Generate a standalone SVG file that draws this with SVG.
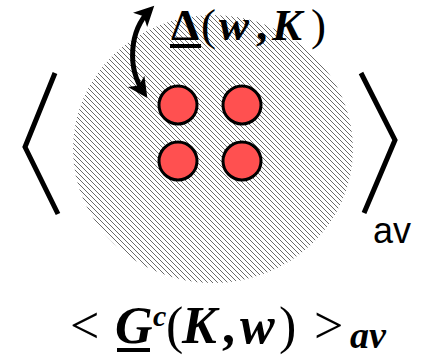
<svg xmlns="http://www.w3.org/2000/svg" width="424" height="357" viewBox="0 0 424 357">
<defs>
<pattern id="hatch" patternUnits="userSpaceOnUse" width="5" height="5">
<g fill="#6a6a6a" shape-rendering="crispEdges"><rect x="0" y="0" width="1" height="1"/><rect x="1" y="1" width="1" height="1"/><rect x="2" y="2" width="1" height="1"/><rect x="3" y="3" width="1" height="1"/><rect x="4" y="4" width="1" height="1"/></g>
</pattern>
<marker id="ah" viewBox="0 0 10 10" refX="7" refY="5" markerWidth="4.5" markerHeight="4" orient="auto-start-reverse" markerUnits="strokeWidth">
<path d="M0,0 L10,5 L0,10 L2.5,5 Z" fill="#000"/>
</marker>
<style>
.bracket{fill:none;stroke:#000;stroke-width:5;stroke-linejoin:miter}
.dot{fill:#ff5050;stroke:#000;stroke-width:3}
.math{font-family:"Liberation Serif","DejaVu Serif",serif;fill:#000}
.bi{font-weight:bold;font-style:italic}
.b{font-weight:bold}
</style>
</defs>
<g id="disc"><ellipse cx="213" cy="149" rx="140" ry="134" fill="url(#hatch)"/></g>
<g id="brackets">
<polyline class="bracket" points="55,73 25,147 58,214"/>
<polyline class="bracket" points="361,73 395,140 364,213"/>
<text x="373" y="243" font-family="'Liberation Sans',Arial,sans-serif" font-size="36" fill="#000">av</text>
</g>
<g id="sites">
<circle class="dot" cx="178" cy="105" r="19"/>
<circle class="dot" cx="242" cy="105" r="19"/>
<circle class="dot" cx="178" cy="161" r="19"/>
<circle class="dot" cx="242" cy="161" r="19"/>
</g>
<g id="connectors">
<path d="M150,10 C129,31 127,68 144,93" fill="none" stroke="#000" stroke-width="5" marker-start="url(#ah)" marker-end="url(#ah)"/>
</g>
<g id="delta-label" class="math" font-size="45">
<text x="171" y="40" class="b">Δ</text>
<text x="201" y="40">(</text>
<text x="219" y="40" class="bi">w</text>
<text x="256" y="40" class="b">,</text>
<text x="272" y="40" class="bi">K</text>
<text x="311" y="40">)</text>
<rect x="170" y="44" width="31" height="4"/>
</g>
<g id="formula" class="math" font-size="52">
<text x="70" y="343">&lt;</text>
<text x="115" y="343" class="bi">G</text>
<text x="153" y="326" class="bi" font-size="30">c</text>
<text x="166" y="343">(</text>
<text x="182" y="343" class="bi">K</text>
<text x="222" y="343" class="b">,</text>
<text x="240" y="343" class="bi">w</text>
<text x="279" y="343">)</text>
<text x="314" y="343">&gt;</text>
<text x="350" y="348" class="bi" font-size="38">av</text>
<rect x="117" y="348" width="33" height="4"/>
</g>
</svg>
